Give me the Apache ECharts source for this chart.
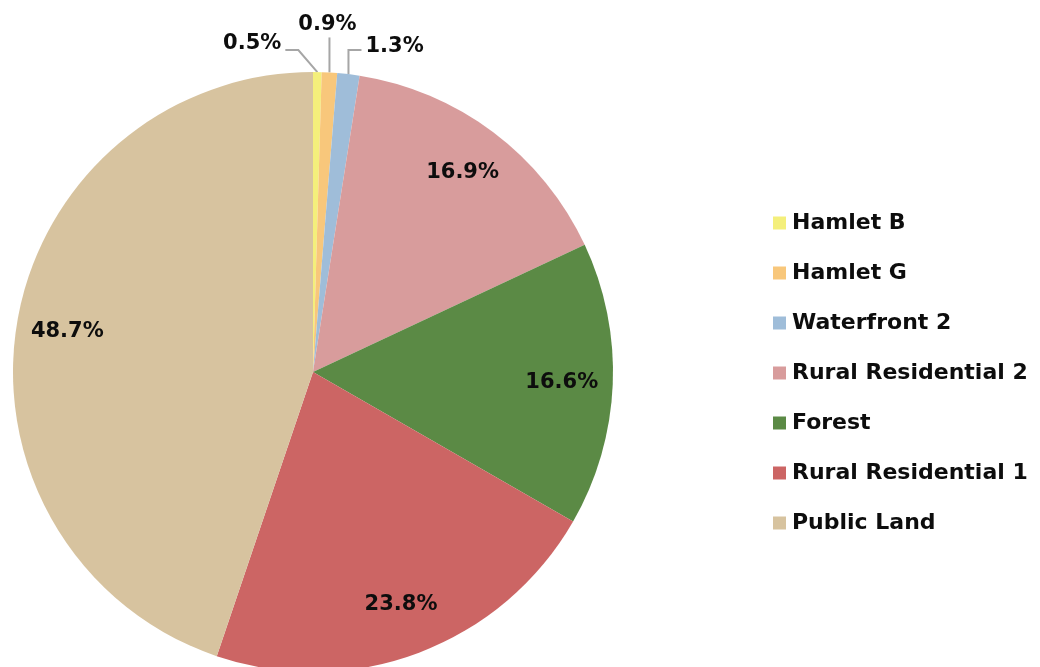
<!DOCTYPE html>
<html>
<head>
<meta charset="utf-8">
<title>Land Use Share</title>
<script src="https://cdn.jsdelivr.net/npm/echarts@6/dist/echarts.min.js"></script>
<style>
  html, body { margin: 0; padding: 0; background: #ffffff; }
  #chart { width: 1040px; height: 667px; }
</style>
</head>
<body>
<div id="chart"></div>
<script>
// Zoning categories and their share of land area (percent)
const categories = ['Hamlet B', 'Hamlet G', 'Waterfront 2', 'Rural Residential 2', 'Forest', 'Rural Residential 1', 'Public Land'];
const shares = [0.5, 0.9, 1.3, 16.9, 16.6, 23.8, 48.7];
const colors = ['#f4ef7b', '#f8c77b', '#9fbdd9', '#d89c9c', '#5b8a45', '#cc6564', '#d7c39f'];

const FONT = 'DejaVu Sans';
const CENTER = [313, 372];
const RADIUS = 300;
const SMALL = 3; // the first slices get callout labels above the pie

const pieData = categories.map((name, i) => ({ name, value: shares[i] }));

// Callout placement for the thin slices, relative to each slice's edge anchor
function calloutLayout(params) {
  const pts = params.labelLinePoints;
  if (!pts || params.dataIndex >= SMALL) return {};
  const p = pts[0];
  const x = p[0], y = p[1];
  if (params.dataIndex === 0) {
    return {
      x: x - 36, y: y - 28, align: 'right', verticalAlign: 'middle',
      labelLinePoints: [[x, y], [x - 19, y - 22], [x - 32, y - 22]]
    };
  }
  if (params.dataIndex === 1) {
    return {
      x: x - 2, y: y - 48, align: 'center', verticalAlign: 'middle',
      labelLinePoints: [[x, y], [x, y - 18], [x, y - 35]]
    };
  }
  return {
    x: x + 17, y: y - 28, align: 'left', verticalAlign: 'middle',
    labelLinePoints: [[x, y], [x, y - 24], [x + 13, y - 24]]
  };
}

const labelText = {
  fontFamily: FONT, fontWeight: 'bold', fontSize: 21, color: '#0d0d0d'
};

const chart = echarts.init(document.getElementById('chart'), null, { renderer: 'canvas' });
chart.setOption({
  backgroundColor: '#ffffff',
  animation: false,
  color: colors,
  legend: {
    orient: 'vertical',
    left: 768,
    top: 205,
    itemWidth: 13,
    itemHeight: 13,
    itemGap: 24,
    icon: 'rect',
    selectedMode: false,
    data: categories,
    textStyle: { fontFamily: FONT, fontWeight: 'bold', fontSize: 22, color: '#0d0d0d', lineHeight: 26, padding: [0, 0, 0, 1] }
  },
  series: [
    {
      // The pie itself, with callouts for the three thin slices
      type: 'pie',
      center: CENTER,
      radius: RADIUS,
      startAngle: 90,
      clockwise: true,
      avoidLabelOverlap: false,
      silent: true,
      itemStyle: { borderWidth: 0 },
      label: Object.assign({ show: true, position: 'outside', formatter: '{c}%' }, labelText),
      labelLine: { show: true, length: 20, length2: 12, smooth: false, lineStyle: { color: '#a6a6a6', width: 2 } },
      labelLayout: calloutLayout,
      data: pieData.map((d, i) => i < SMALL ? d : Object.assign({}, d, {
        label: { show: false }, labelLine: { show: false }
      }))
    },
    {
      // Transparent ring over the outer band, carrying the in-slice labels
      type: 'pie',
      center: CENTER,
      radius: [RADIUS * 0.64, RADIUS],
      startAngle: 90,
      clockwise: true,
      silent: true,
      legendHoverLink: false,
      itemStyle: { color: 'rgba(0,0,0,0)', borderWidth: 0 },
      label: Object.assign({ show: true, position: 'inside', formatter: '{c}%' }, labelText),
      labelLine: { show: false },
      data: pieData.map((d, i) => i >= SMALL ? d : Object.assign({}, d, { label: { show: false } }))
    }
  ]
});
</script>
</body>
</html>
